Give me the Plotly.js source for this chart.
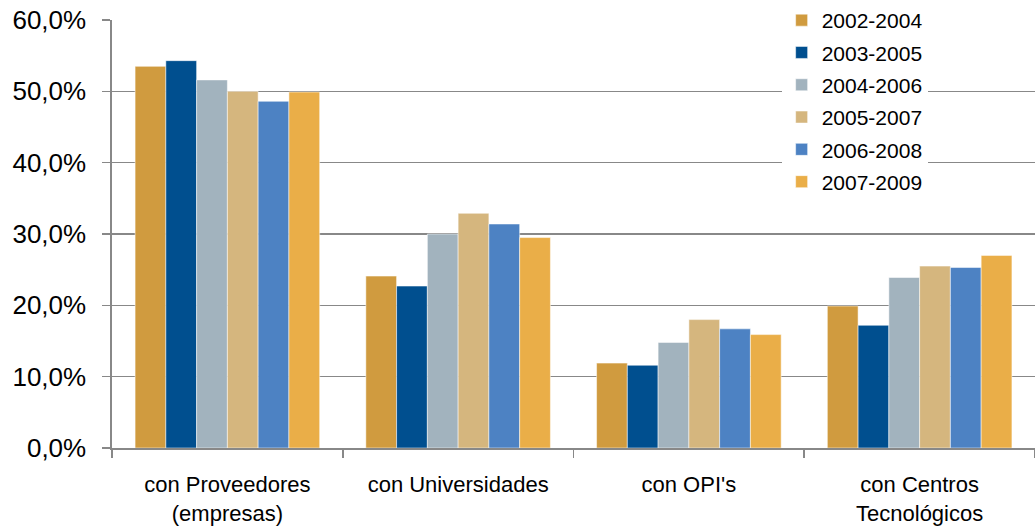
<!DOCTYPE html>
<html>
<head>
<meta charset="utf-8">
<script src="https://cdn.plot.ly/plotly-3.0.1.min.js"></script>
<style>html,body{margin:0;padding:0;background:#fff;}#chart{width:1035px;height:526px;}</style>
</head>
<body>
<div id="chart"></div>
<script>
const categories = ["con Proveedores<br>(empresas)", "con Universidades", "con OPI's", "con Centros<br>Tecnológicos"];
const seriesNames = ["2002-2004", "2003-2005", "2004-2006", "2005-2007", "2006-2008", "2007-2009"];
const s2002_2004 = [53.5, 24.1, 11.9, 19.9];
const s2003_2005 = [54.3, 22.7, 11.6, 17.2];
const s2004_2006 = [51.6, 30.0, 14.8, 23.9];
const s2005_2007 = [50.0, 32.9, 18.0, 25.5];
const s2006_2008 = [48.6, 31.4, 16.7, 25.3];
const s2007_2009 = [49.9, 29.5, 15.9, 27.0];
const seriesValues = [s2002_2004, s2003_2005, s2004_2006, s2005_2007, s2006_2008, s2007_2009];
const colors = ["#D09B3F", "#004F8F", "#A2B3BE", "#D5B67E", "#4D82C3", "#EAAE48"];

const traces = seriesNames.map((name, i) => ({
  type: 'bar',
  name: name,
  x: categories,
  y: seriesValues[i],
  legendgroup: 'g' + i,
  marker: {color: colors[i], line: {color: 'rgba(255,255,255,0.5)', width: 1}},
  hoverinfo: 'skip'
}));

const layout = {
  width: 1035, height: 526,
  margin: {l: 112, r: 0, t: 20, b: 78},
  paper_bgcolor: '#fff', plot_bgcolor: '#fff',
  font: {family: "'Liberation Sans', Arial, sans-serif", color: '#000', size: 22},
  separators: ',.',
  barmode: 'group',
  bargap: 0.2,
  bargroupgap: 0,
  showlegend: true,
  legend: {
    x: 0.7255, xanchor: 'left', y: 1.047, yanchor: 'top',
    bgcolor: '#fff', borderwidth: 0,
    font: {size: 21, color: '#000'},
    traceorder: 'grouped', tracegroupgap: 2
  },
  xaxis: {
    type: 'category',
    showline: true, linecolor: '#888888', linewidth: 1.6,
    ticks: 'outside', ticklen: 8, tickcolor: '#888888', tickwidth: 1.6,
    tickson: 'boundaries',
    showgrid: false,
    tickfont: {size: 22},
    ticklabelstandoff: 16,
    fixedrange: true
  },
  yaxis: {
    range: [0, 60], dtick: 10, tick0: 0,
    tickformat: '.1f', ticksuffix: '%',
    showline: true, linecolor: '#888888', linewidth: 1.6,
    ticks: 'outside', ticklen: 8, tickcolor: '#888888', tickwidth: 1.6,
    showgrid: true, gridcolor: '#888888', gridwidth: 1.6,
    zeroline: false,
    tickfont: {size: 26},
    ticklabelstandoff: 11,
    fixedrange: true
  }
};

Plotly.newPlot('chart', traces, layout, {staticPlot: true, displayModeBar: false});
</script>
</body>
</html>
